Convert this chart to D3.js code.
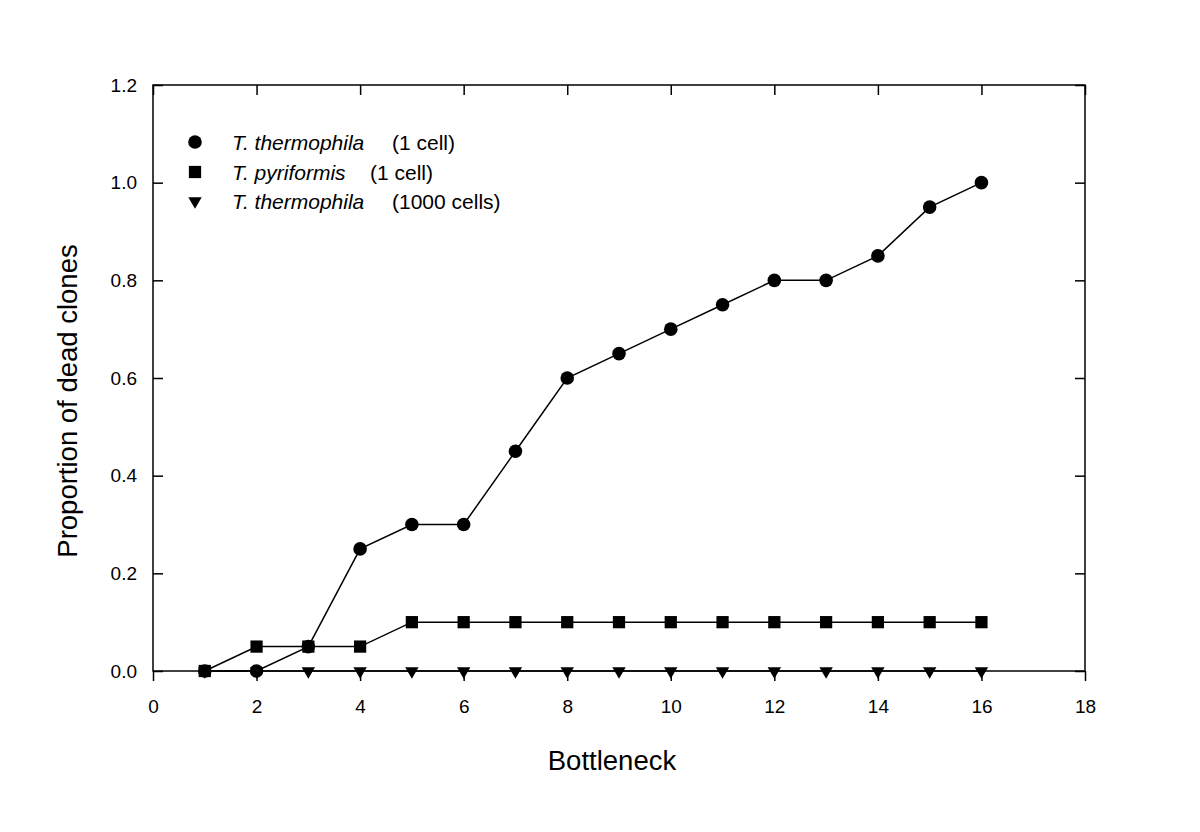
<!DOCTYPE html>
<html lang="en">
<head>
  <meta charset="UTF-8">
  <title>Proportion of dead clones</title>
  <script src="https://d3js.org/d3.v7.min.js"></script>
  <style>
    body { margin: 0; background: #fff; font-family: Arial, "Liberation Sans", sans-serif; }
  </style>
</head>
<body>
  <div id="chart"></div>
  <script>
    // Data
    const bottlenecks = d3.range(1, 17);
    const thermo1 = [0, 0, 0.05, 0.25, 0.3, 0.3, 0.45, 0.6, 0.65, 0.7, 0.75, 0.8, 0.8, 0.85, 0.95, 1.0];
    const pyri1 = [0, 0.05, 0.05, 0.05, 0.1, 0.1, 0.1, 0.1, 0.1, 0.1, 0.1, 0.1, 0.1, 0.1, 0.1, 0.1];
    const thermo1000 = [0, 0, 0, 0, 0, 0, 0, 0, 0, 0, 0, 0, 0, 0, 0, 0];
    const xTicks = [0, 2, 4, 6, 8, 10, 12, 14, 16, 18];
    const yTicks = [0, 0.2, 0.4, 0.6, 0.8, 1.0, 1.2];

    const series = [
      { name: "T. thermophila", note: "(1 cell)", noteX: 392, values: thermo1, symbol: d3.symbolCircle, size: 145 },
      { name: "T. pyriformis", note: "(1 cell)", noteX: 370, values: pyri1, symbol: d3.symbolSquare, size: 150 },
      { name: "T. thermophila", note: "(1000 cells)", noteX: 392, values: thermo1000, symbol: d3.symbolTriangle, size: 78, flip: true }
    ];

    const width = 1200, height = 832;
    const margin = { top: 85, right: 115, bottom: 161, left: 153 };
    const innerW = width - margin.left - margin.right;
    const innerH = height - margin.top - margin.bottom;

    const svg = d3.select("#chart").append("svg")
      .attr("width", width)
      .attr("height", height);

    const x = d3.scaleLinear().domain([0, 18]).range([margin.left, margin.left + innerW]);
    const y = d3.scaleLinear().domain([0, 1.2]).range([margin.top + innerH, margin.top]);

    // frame
    svg.append("rect")
      .attr("x", margin.left).attr("y", margin.top)
      .attr("width", innerW).attr("height", innerH)
      .attr("fill", "none").attr("stroke", "#000").attr("stroke-width", 1.5);

    // bottom axis, ticks outward
    svg.append("g")
      .attr("transform", `translate(0,${margin.top + innerH})`)
      .call(d3.axisBottom(x).tickValues(xTicks).tickSize(10).tickPadding(19).tickFormat(d3.format("d")));
    // top axis, ticks inward
    svg.append("g")
      .attr("transform", `translate(0,${margin.top})`)
      .call(d3.axisTop(x).tickValues(xTicks).tickSize(-10).tickFormat(""));
    // left axis, ticks inward
    svg.append("g")
      .attr("transform", `translate(${margin.left},0)`)
      .call(d3.axisLeft(y).tickValues(yTicks).tickSize(-10).tickPadding(16).tickFormat(d3.format(".1f")));
    // right axis, ticks inward
    svg.append("g")
      .attr("transform", `translate(${margin.left + innerW},0)`)
      .call(d3.axisRight(y).tickValues(yTicks).tickSize(-10).tickFormat(""));

    svg.selectAll(".domain").remove();
    svg.selectAll(".tick line").attr("stroke", "#000").attr("stroke-width", 1.5);
    svg.selectAll(".tick text")
      .attr("font-size", 19)
      .attr("font-family", "Arial, 'Liberation Sans', sans-serif")
      .attr("fill", "#000");

    // axis titles
    svg.append("text")
      .attr("x", 612).attr("y", 770)
      .attr("text-anchor", "middle")
      .attr("font-size", 27.5)
      .text("Bottleneck");
    svg.append("text")
      .attr("transform", "translate(77,401) rotate(-90)")
      .attr("text-anchor", "middle")
      .attr("font-size", 27.5)
      .text("Proportion of dead clones");

    const line = d3.line()
      .x((d, i) => x(bottlenecks[i]))
      .y(d => y(d));

    // lines first, markers on top
    series.forEach(s => {
      svg.append("path")
        .datum(s.values)
        .attr("fill", "none")
        .attr("stroke", "#000")
        .attr("stroke-width", 1.5)
        .attr("d", line);
    });

    series.slice().reverse().forEach(s => {
      svg.append("g").selectAll("path")
        .data(s.values)
        .join("path")
        .attr("d", d3.symbol().type(s.symbol).size(s.size))
        .attr("transform", (d, i) => `translate(${x(bottlenecks[i])},${y(d)})${s.flip ? " rotate(180)" : ""}`)
        .attr("fill", "#000");
    });

    // legend
    const legendY = [142, 172, 201];
    const legend = svg.append("g");
    series.forEach((s, i) => {
      legend.append("path")
        .attr("d", d3.symbol().type(s.symbol).size(s.size))
        .attr("transform", `translate(195,${legendY[i]})${s.flip ? " rotate(180)" : ""}`)
        .attr("fill", "#000");
      legend.append("text")
        .attr("x", 232).attr("y", legendY[i] + 8)
        .attr("font-size", 21)
        .attr("font-style", "italic")
        .text(s.name);
      legend.append("text")
        .attr("x", s.noteX).attr("y", legendY[i] + 8)
        .attr("font-size", 21)
        .text(s.note);
    });
  </script>
</body>
</html>
